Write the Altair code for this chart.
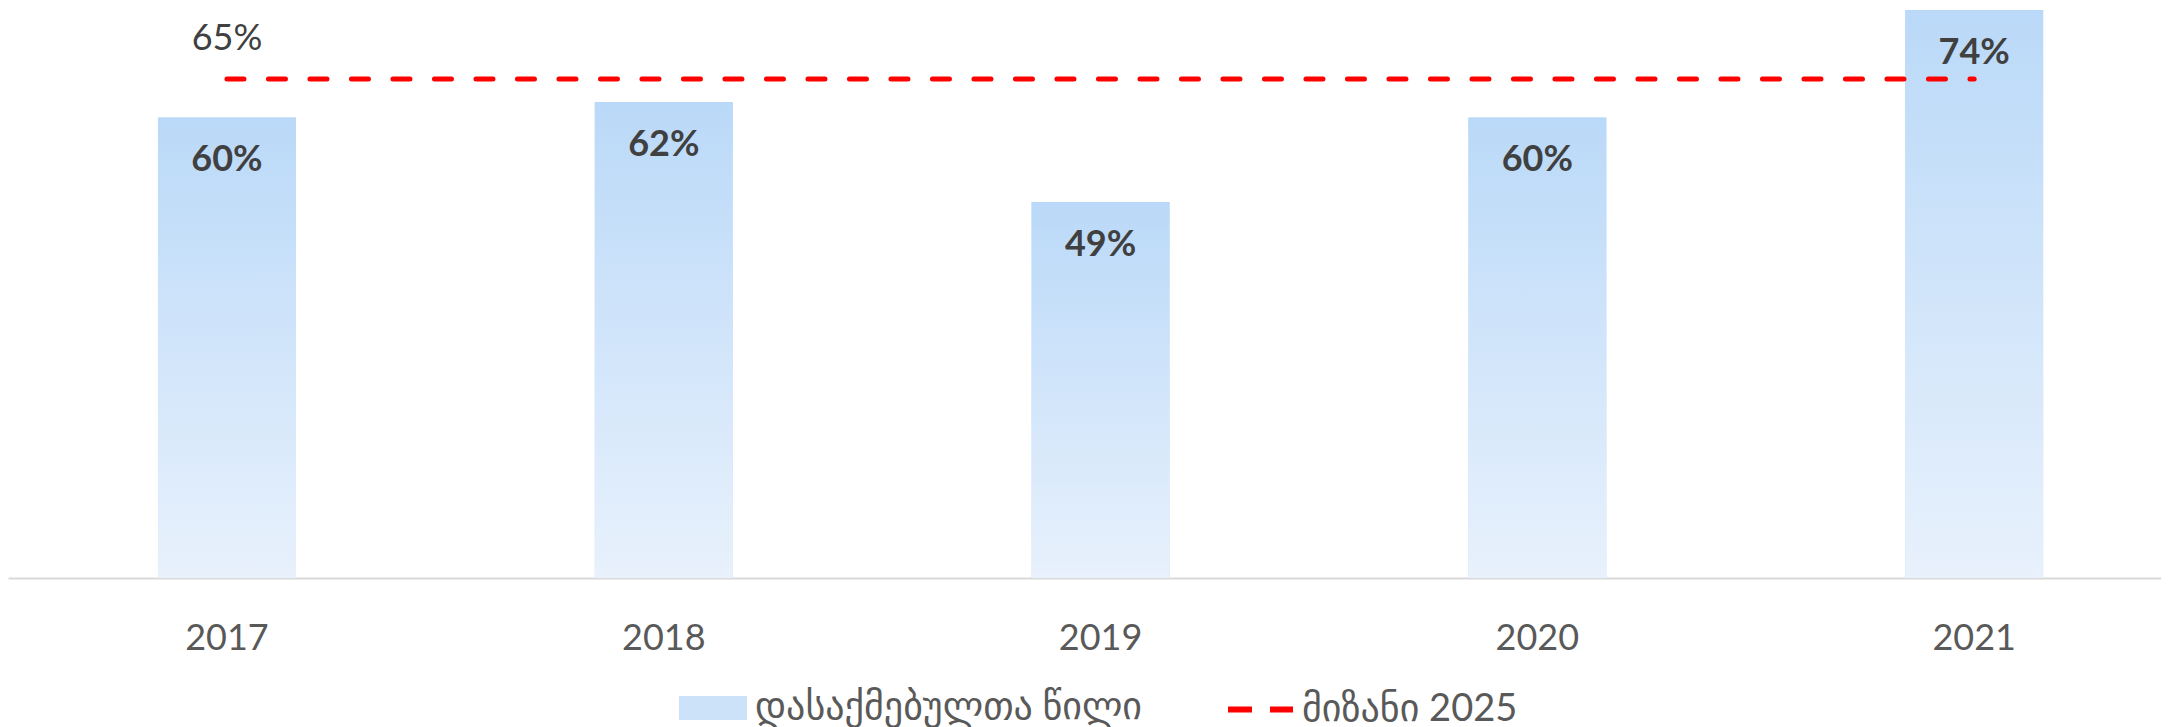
import altair as alt
import pandas as pd

years = ["2017", "2018", "2019", "2020", "2021"]
shares = [60, 62, 49, 60, 74]
target_value = 65
series_bar = "დასაქმებულთა წილი"
series_line = "მიზანი 2025"

df = pd.DataFrame({
    "year": years,
    "share": shares,
    "label": [f"{v}%" for v in shares],
    "series": [series_bar] * len(years),
    "target": [target_value] * len(years),
    "tlabel": [f"{target_value}%"] * len(years),
    "tseries": [series_line] * len(years),
})

FONT = "Lato, 'DejaVu Sans Condensed', 'DejaVu Sans', sans-serif"
LEGEND_FONT = "Lato, 'DejaVu Sans', sans-serif"

xscale = alt.Scale(domain=years, paddingInner=0.684, paddingOuter=0.3065, align=0.56)
yscale = alt.Scale(domain=[0, 74], nice=False, zero=True)

x_enc = alt.X("year:N", scale=xscale,
              axis=alt.Axis(title=None, ticks=False, labelAngle=0, labelFontSize=36,
                            labelFont=FONT, labelColor="#595959", labelPadding=43,
                            domainColor="#d9d9d9", domainWidth=2, grid=False))
y_enc = alt.Y("share:Q", scale=yscale, axis=None)
yt_enc = alt.Y("target:Q", scale=yscale, axis=None)

grad = alt.Gradient(
    gradient="linear",
    stops=[alt.GradientStop(color="#BAD9F8", offset=0),
           alt.GradientStop(color="#E8F1FC", offset=1)],
    x1=0, x2=0, y1=0, y2=1,
)

legend_bar = alt.Legend(
    title=None, orient="none", legendX=671, legendY=664,
    symbolType="M-1,-0.35H1V0.35H-1Z", symbolSize=4624, symbolStrokeWidth=0,
    labelFontSize=38, labelFont=LEGEND_FONT, labelColor="#595959", labelOffset=8,
    labelLimit=1000,
)
bars_legend = alt.Chart(df).mark_bar().encode(
    x=x_enc, y=y_enc,
    fill=alt.Fill("series:N", scale=alt.Scale(domain=[series_bar], range=["#CCE2F9"]),
                  legend=legend_bar),
)
bars = alt.Chart(df).mark_bar(color=grad).encode(x=x_enc, y=y_enc)

legend_line = alt.Legend(
    title=None, orient="none", legendX=1217, legendY=664,
    symbolType="stroke", symbolSize=4225, symbolStrokeWidth=6, symbolDash=[24, 18],
    labelFontSize=38, labelFont=LEGEND_FONT, labelColor="#595959", labelOffset=6,
    labelLimit=1000,
)
line = alt.Chart(df).mark_line(strokeWidth=5, strokeDash=[17, 24.5], strokeCap="round").encode(
    x=x_enc,
    y=yt_enc,
    stroke=alt.Stroke("tseries:N", scale=alt.Scale(domain=[series_line], range=["#FF0000"]),
                      legend=legend_line),
)

bar_text = alt.Chart(df).mark_text(
    baseline="middle", dy=43, fontSize=36, fontWeight="bold", font=FONT, color="#404040"
).encode(x=x_enc, y=y_enc, text="label:N")

tgt_text = alt.Chart(df).transform_filter(
    alt.datum.year == years[0]
).mark_text(
    baseline="middle", dy=-40, fontSize=36, font=FONT, color="#404040"
).encode(x=x_enc, y=yt_enc, text="tlabel:N")

chart = alt.layer(bars_legend, bars, line, bar_text, tgt_text).resolve_scale(
    fill="independent", stroke="independent"
).properties(
    width=2153, height=568,
    background="white",
    autosize=alt.AutoSizeParams(type="none"),
    padding={"top": 2, "left": 0, "right": 0, "bottom": 149},
).configure_view(stroke=None)

chart.save("out.html", embed_options={"renderer": "svg", "actions": False})
